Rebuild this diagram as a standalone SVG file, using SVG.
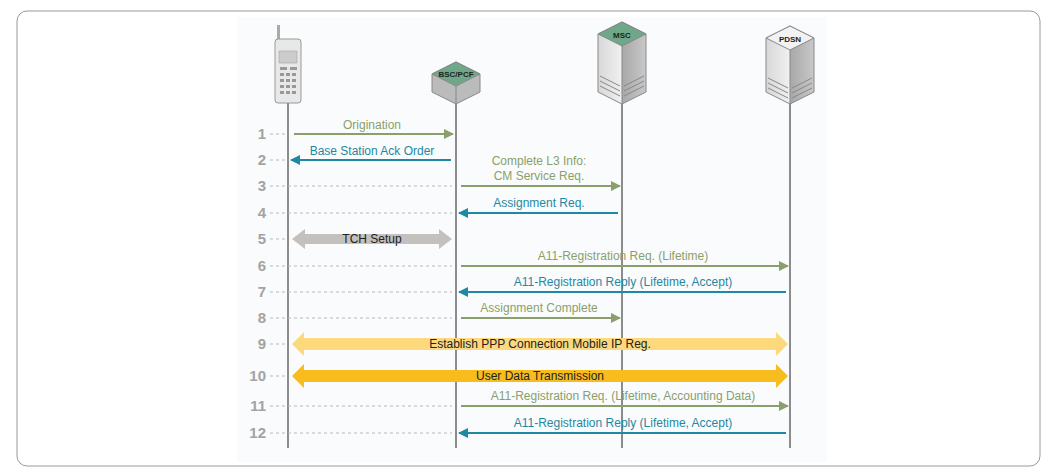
<svg xmlns="http://www.w3.org/2000/svg" width="1053" height="472" viewBox="0 0 1053 472">
<style>
.n{font:bold 15px "Liberation Sans",Arial,sans-serif;fill:#a3a3a3;text-anchor:end}
.d{stroke:#b8b8b8;stroke-width:1;stroke-dasharray:3,3}
.l{stroke:#8c8c8c;stroke-width:2}
.g{stroke:#8a9f6b;stroke-width:2;fill:none}
.b{stroke:#1f88a2;stroke-width:2;fill:none}
.tg{font:12px "Liberation Sans",Arial,sans-serif;fill:#8a9f6b;text-anchor:middle}
.tb{font:12px "Liberation Sans",Arial,sans-serif;fill:#1f88a2;text-anchor:middle}
.tk{font:12px "Liberation Sans",Arial,sans-serif;fill:#222;text-anchor:middle}
.lab{font:bold 8px "Liberation Sans",Arial,sans-serif;fill:#222;text-anchor:middle}
</style>
<defs>
<marker id="ag" markerWidth="10" markerHeight="10" refX="9" refY="5" orient="auto" markerUnits="userSpaceOnUse"><path d="M0,0L10,5L0,10z" fill="#8a9f6b"/></marker>
<marker id="ab" markerWidth="10" markerHeight="10" refX="9" refY="5" orient="auto" markerUnits="userSpaceOnUse"><path d="M0,0L10,5L0,10z" fill="#1f88a2"/></marker>
<linearGradient id="tw" x1="0" x2="1"><stop offset="0" stop-color="#d8d8d8"/><stop offset="0.5" stop-color="#f0f0f0"/><stop offset="0.5" stop-color="#a8a8a8"/><stop offset="1" stop-color="#c8c8c8"/></linearGradient>
</defs>
<rect x="17" y="11" width="1023" height="455" rx="10" fill="#fff" stroke="#9a9a9a"/>
<rect x="237" y="17" width="590" height="445" fill="#f9fbfc"/>
<g id="phone">
<rect x="277" y="25" width="3" height="16" fill="#aaa"/>
<rect x="275" y="39" width="26" height="64" rx="3" fill="#e8e8e8" stroke="#999"/>
<rect x="279" y="51" width="18" height="12" fill="#ccc" stroke="#999" stroke-width="0.5"/>
<g fill="#999"><rect x="280" y="67" width="7" height="3"/><rect x="290" y="67" width="7" height="3"/><rect x="280" y="73" width="4" height="3"/><rect x="286" y="73" width="4" height="3"/><rect x="292" y="73" width="4" height="3"/><rect x="280" y="79" width="4" height="3"/><rect x="286" y="79" width="4" height="3"/><rect x="292" y="79" width="4" height="3"/><rect x="280" y="85" width="4" height="3"/><rect x="286" y="85" width="4" height="3"/><rect x="292" y="85" width="4" height="3"/><rect x="280" y="91" width="4" height="3"/><rect x="286" y="91" width="4" height="3"/><rect x="292" y="91" width="4" height="3"/></g>
</g>
<g id="bsc">
<path d="M432,74L456,62L480,74L480,92L456,104L432,92z" fill="#bbb" stroke="#888"/>
<path d="M432,74L456,62L480,74L456,86z" fill="#6ea888" stroke="#888"/>
<path d="M456,86L456,104" stroke="#888"/>
<text class="lab" x="456" y="77">BSC/PCF</text>
</g>
<g id="msc">
<path d="M598,34L622,22L646,34L646,92L622,104L598,92z" fill="url(#tw)" stroke="#888"/>
<path d="M598,34L622,22L646,34L622,46z" fill="#6ea888" stroke="#888"/>
<path d="M622,46V104" stroke="#888"/>
<path d="M600,76L620,86M600,81L620,91M600,86L620,96M624,86L644,76M624,91L644,81M624,96L644,86" stroke="#888"/>
<text class="lab" x="622" y="38">MSC</text>
</g>
<g id="pdsn">
<path d="M766,38L790,26L814,38L814,92L790,104L766,92z" fill="url(#tw)" stroke="#888"/>
<path d="M766,38L790,26L814,38L790,50z" fill="#f2f2f2" stroke="#888"/>
<path d="M790,50V104" stroke="#888"/>
<path d="M768,78L788,88M768,83L788,93M768,88L788,98M792,88L812,78M792,93L812,83M792,98L812,88" stroke="#888"/>
<text class="lab" x="790" y="42">PDSN</text>
</g>
<g id="lifelines">
<line class="l" x1="288" y1="103" x2="288" y2="448"/>
<line class="l" x1="456" y1="104" x2="456" y2="448"/>
<line class="l" x1="622" y1="104" x2="622" y2="448"/>
<line class="l" x1="790" y1="104" x2="790" y2="448"/>
</g>
<g id="rows">
<text class="n" x="266" y="139">1</text><line class="d" x1="270" y1="134" x2="287" y2="134"/>
<text class="n" x="266" y="165">2</text><line class="d" x1="270" y1="160" x2="287" y2="160"/>
<text class="n" x="266" y="191">3</text><line class="d" x1="270" y1="186" x2="452" y2="186"/>
<text class="n" x="266" y="218">4</text><line class="d" x1="270" y1="213" x2="452" y2="213"/>
<text class="n" x="266" y="244">5</text><line class="d" x1="270" y1="239" x2="287" y2="239"/>
<text class="n" x="266" y="271">6</text><line class="d" x1="270" y1="266" x2="452" y2="266"/>
<text class="n" x="266" y="297">7</text><line class="d" x1="270" y1="292" x2="452" y2="292"/>
<text class="n" x="266" y="323">8</text><line class="d" x1="270" y1="318" x2="452" y2="318"/>
<text class="n" x="266" y="349">9</text><line class="d" x1="270" y1="344" x2="287" y2="344"/>
<text class="n" x="266" y="381">10</text><line class="d" x1="270" y1="376" x2="287" y2="376"/>
<text class="n" x="266" y="411">11</text><line class="d" x1="270" y1="406" x2="452" y2="406"/>
<text class="n" x="266" y="438">12</text><line class="d" x1="270" y1="433" x2="452" y2="433"/>
</g>
<g id="connectors">
<line class="g" x1="294" y1="134" x2="453" y2="134" marker-end="url(#ag)"/>
<text class="tg" x="372" y="129">Origination</text>
<line class="b" x1="451" y1="160" x2="291" y2="160" marker-end="url(#ab)"/>
<text class="tb" x="372" y="155">Base Station Ack Order</text>
<line class="g" x1="461" y1="186" x2="620" y2="186" marker-end="url(#ag)"/>
<text class="tg" x="539" y="165">Complete L3 Info:</text>
<text class="tg" x="539" y="180">CM Service Req.</text>
<line class="b" x1="618" y1="213" x2="459" y2="213" marker-end="url(#ab)"/>
<text class="tb" x="539" y="207">Assignment Req.</text>
<path d="M292,239L305,229V234H439V229L452,239L439,249V244H305V249z" fill="#c4c0bd"/>
<text class="tk" x="372" y="243">TCH Setup</text>
<line class="g" x1="461" y1="266" x2="788" y2="266" marker-end="url(#ag)"/>
<text class="tg" x="623" y="260">A11-Registration Req. (Lifetime)</text>
<line class="b" x1="786" y1="292" x2="459" y2="292" marker-end="url(#ab)"/>
<text class="tb" x="623" y="286">A11-Registration Reply (Lifetime, Accept)</text>
<line class="g" x1="461" y1="318" x2="620" y2="318" marker-end="url(#ag)"/>
<text class="tg" x="539" y="312">Assignment Complete</text>
<path d="M292,344L304,332V338H776V332L788,344L776,356V350H304V356z" fill="#fdd97e"/>
<text class="tk" x="540" y="348">Establish PPP Connection Mobile IP Reg.</text>
<path d="M292,376L304,364V370H776V364L788,376L776,388V382H304V388z" fill="#f8bc1c"/>
<text class="tk" x="540" y="380">User Data Transmission</text>
<line class="g" x1="461" y1="406" x2="788" y2="406" marker-end="url(#ag)"/>
<text class="tg" x="623" y="400">A11-Registration Req. (Lifetime, Accounting Data)</text>
<line class="b" x1="786" y1="433" x2="459" y2="433" marker-end="url(#ab)"/>
<text class="tb" x="623" y="427">A11-Registration Reply (Lifetime, Accept)</text>
</g>
</svg>
